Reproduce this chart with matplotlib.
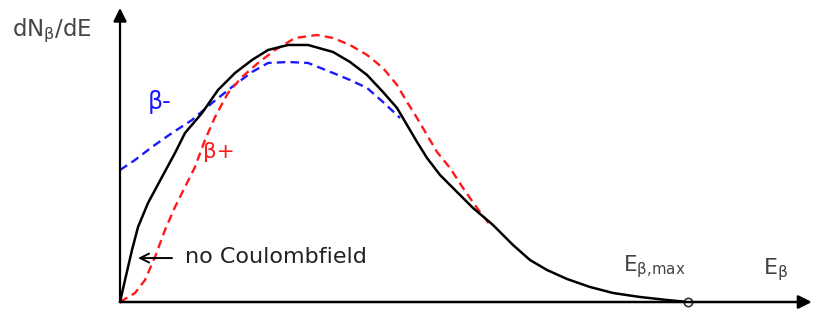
import numpy as np
from matplotlib import pyplot as plt

# energy in units of E_max, dN/dE in units of the peak of the plain spectrum
e_black = [0, 0.0088, 0.0211, 0.0317, 0.0493, 0.0739, 0.0968, 0.1144, 0.1444, 0.1725,
           0.2025, 0.2324, 0.2606, 0.2958, 0.3310, 0.3750, 0.4049, 0.4349, 0.4630, 0.4877,
           0.5053, 0.5229, 0.5405, 0.5634, 0.5933, 0.6215, 0.6567, 0.6919, 0.7218, 0.7518,
           0.7870, 0.8275, 0.8680, 0.9155, 0.9630, 1.0]
n_black = [0, 0.0856, 0.2023, 0.2918, 0.3852, 0.4864, 0.5798, 0.6576, 0.7354, 0.8249,
           0.8911, 0.9416, 0.9805, 1.0, 1.0, 0.9728, 0.9339, 0.8833, 0.8171, 0.7549,
           0.6887, 0.6226, 0.5603, 0.4942, 0.4280, 0.3658, 0.2996, 0.2218, 0.1634, 0.1245,
           0.0895, 0.0584, 0.0350, 0.0195, 0.0078, 0]

# beta+ (repelled by the nucleus)
e_plus = [0, 0.0264, 0.0440, 0.0616, 0.0792, 0.0968, 0.1144, 0.1320, 0.1496, 0.1673,
          0.1901, 0.2148, 0.2430, 0.2729, 0.3081, 0.3468, 0.3750, 0.4049, 0.4349, 0.4630,
          0.4877, 0.5053, 0.5229, 0.5405, 0.5581, 0.5810, 0.6039, 0.6285, 0.6514]
n_plus = [0, 0.0350, 0.0856, 0.1751, 0.2802, 0.3696, 0.4475, 0.5253, 0.6304, 0.7198,
          0.8132, 0.8755, 0.9300, 0.9805, 1.0272, 1.0389, 1.0272, 1.0, 0.9611, 0.9105,
          0.8444, 0.7782, 0.7160, 0.6498, 0.5837, 0.5214, 0.4436, 0.3658, 0.2996]

# beta- (attracted)
e_minus = [0, 0.0264, 0.0563, 0.0915, 0.1268, 0.1620, 0.1972, 0.2324, 0.2606, 0.2958,
           0.3310, 0.3750, 0.4049, 0.4349, 0.4630, 0.4930]
n_minus = [0.5136, 0.5525, 0.6031, 0.6576, 0.7082, 0.7743, 0.8366, 0.8949, 0.9300, 0.9339,
           0.9300, 0.8911, 0.8638, 0.8327, 0.7782, 0.7160]

fig = plt.figure(figsize=(8.14, 3.2), dpi=100)
ax = fig.add_axes([0, 0, 1, 1])
ax.set_xlim(-0.2113, 1.2218)
ax.set_ylim(-0.070, 1.175)
ax.axis('off')

dash = (0, (3.6, 2.2))
ax.plot(e_minus, n_minus, color='#1a1aff', lw=1.7, linestyle=dash)
ax.plot(e_plus, n_plus, color='#ff1a1a', lw=1.7, linestyle=dash)
ax.plot(e_black, n_black, color='black', lw=1.8, solid_joinstyle='round')

# axes with arrow heads
ax.annotate('', xy=(1.218, 0), xytext=(0, 0),
            arrowprops=dict(arrowstyle='-|>', color='black', lw=1.8, mutation_scale=20, shrinkA=0, shrinkB=0))
ax.annotate('', xy=(0, 1.144), xytext=(0, 0),
            arrowprops=dict(arrowstyle='-|>', color='black', lw=1.6, mutation_scale=20, shrinkA=0, shrinkB=0))
ax.plot([1.0], [0], 'o', ms=6, mfc='white', mec='#333333', mew=1.2)

# labels
ax.text(-0.19, 1.054, r'dN$_\mathregular{β}$/dE', fontsize=16.5, color='#444444', va='center', ha='left')
ax.text(0.049, 0.778, 'β-', fontsize=17, color='#1a1aff', va='center', ha='left', fontweight='medium')
ax.text(0.146, 0.584, 'β+', fontsize=15.5, color='#ff1a1a', va='center', ha='left', fontweight='medium')
ax.annotate('', xy=(0.0317, 0.171), xytext=(0.0915, 0.171),
            arrowprops=dict(arrowstyle='->', color='black', lw=1.4, mutation_scale=16, shrinkA=0, shrinkB=0))
ax.text(0.1144, 0.175, 'no Coulombfield', fontsize=16, color='#222222', va='center', ha='left')
ax.text(0.8856, 0.136, r'E$_\mathregular{β{,}max}$', fontsize=15.5, color='#444444', va='center', ha='left')
ax.text(1.132, 0.128, r'E$_\mathregular{β}$', fontsize=16, color='#444444', va='center', ha='left')

plt.savefig('out.png', dpi=100)
